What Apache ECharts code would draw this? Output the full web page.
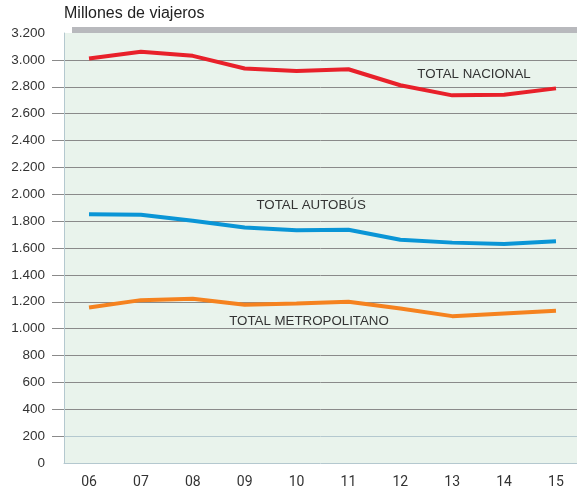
<!DOCTYPE html>
<html><head><meta charset="utf-8">
<script src="https://cdn.jsdelivr.net/npm/echarts@6/dist/echarts.min.js"></script>
<style>html,body{margin:0;padding:0;background:#fff}#c{width:577px;height:493px}</style>
</head><body><div id="c"></div>
<script>
const years = [6, 7, 8, 9, 10, 11, 12, 13, 14, 15];
const yearLabels = ['06','07','08','09','10','11','12','13','14','15'];
const totalNacional = [3010, 3060, 3030, 2936, 2918, 2930, 2811, 2736, 2740, 2788];
const totalAutobus = [1852, 1848, 1803, 1753, 1733, 1736, 1662, 1640, 1630, 1650];
const totalMetropolitano = [1157, 1212, 1222, 1178, 1187, 1200, 1150, 1093, 1113, 1133];
const yTicks = [0,200,400,600,800,1000,1200,1400,1600,1800,2000,2200,2400,2600,2800,3000,3200];
const seriesNames = ['TOTAL NACIONAL', 'TOTAL AUTOBÚS', 'TOTAL METROPOLITANO'];
const labelPos = [[13.42, 2896], [10.28, 1918], [10.24, 1052]];

const chart = echarts.init(document.getElementById('c'), null, {renderer:'canvas'});
const fmt = v => { const s = String(v); return s.length > 3 ? s.slice(0, s.length-3) + '.' + s.slice(-3) : s; };
const gridColors = yTicks.map((v,i) => (i===0 || i===yTicks.length-1) ? '#b4c8cf' : '#8a8a8a');
const colors = ['#e8202a', '#0a95d6', '#f5821f'];
const datas = [totalNacional, totalAutobus, totalMetropolitano];

chart.setOption({
  animation: false,
  backgroundColor: '#fff',
  textStyle: {fontFamily: 'Liberation Sans, Arial, sans-serif'},
  grid: {left: 64, right: 0, top: 33, bottom: 30, show: true, backgroundColor: '#e9f3ec', borderWidth: 0},
  graphic: [
    {type: 'rect', shape: {x: 72, y: 27, width: 505, height: 6}, style: {fill: '#b8b9bd'}, z: 10},
    {type: 'text', left: 64, top: 6, style: {text: 'Millones de viajeros', font: '16px "Liberation Sans", Arial, sans-serif', fill: '#222'}}
  ],
  xAxis: {
    type: 'value', min: 5.518, max: 15.405,
    axisLine: {show: true, lineStyle: {color: '#b4c8cf', width: 1}},
    axisTick: {show: false},
    splitLine: {show: false},
    axisLabel: {
      customValues: years, margin: 12, color: '#333', fontSize: 14,
      fontFamily: 'Liberation Sans Narrow, Arial Narrow, Roboto, sans-serif',
      formatter: v => yearLabels[years.indexOf(Math.round(v))]
    }
  },
  yAxis: {
    type: 'value', min: 0, max: 3200, interval: 200,
    axisLine: {show: true, lineStyle: {color: '#b4c8cf', width: 1}},
    axisTick: {show: true, customValues: yTicks.slice(1, -1), length: 12, lineStyle: {color: '#8a8a8a'}},
    splitLine: {show: true, lineStyle: {color: gridColors, width: 1}},
    axisLabel: {margin: 19, color: '#333', fontSize: 13.5, formatter: fmt}
  },
  series: datas.map((d, i) => ({
    type: 'line', name: seriesNames[i],
    data: years.map((y, j) => [y, d[j]]),
    showSymbol: false, symbol: 'none',
    lineStyle: {color: colors[i], width: 4},
    z: 5,
    markPoint: {
      symbol: 'circle', symbolSize: 0, silent: true,
      data: [{coord: labelPos[i], value: seriesNames[i]}],
      label: {show: true, position: 'inside', formatter: seriesNames[i], color: '#333', fontSize: 13.3, fontFamily: 'Liberation Sans, Arial, sans-serif'}
    }
  }))
});
</script></body></html>
